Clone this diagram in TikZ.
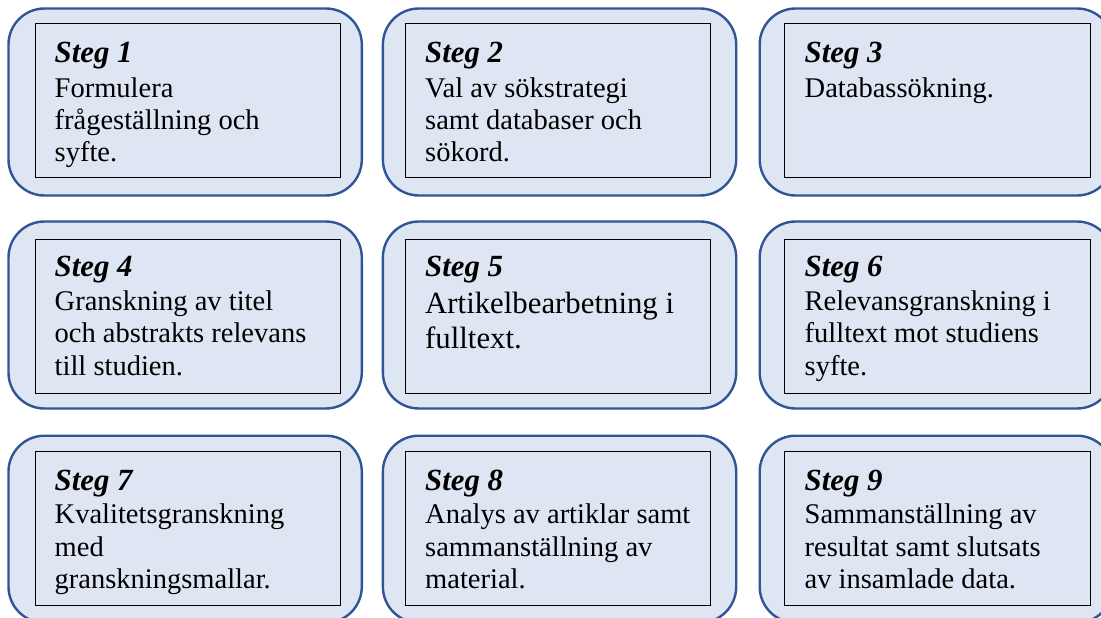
\documentclass[tikz,border=0pt]{standalone}
\usepackage{fontspec}
\setmainfont{Liberation Serif}
\definecolor{boxfill}{HTML}{DFE6F3}
\definecolor{boxline}{HTML}{2F5597}
\begin{document}
\begin{tikzpicture}[x=1pt,y=-1pt,
  outerbox/.style={draw=boxline, line width=2.4pt, fill=boxfill, rounded corners=36pt,
    minimum width=353.3pt, minimum height=187pt, anchor=north west, inner sep=0pt},
  innerbox/.style={draw=black, line width=1.1pt, fill=boxfill,
    minimum width=305.3pt, minimum height=154pt, anchor=north west, inner sep=0pt},
  head/.style={anchor=base west, inner sep=0pt, font=\fontsize{30.8}{35}\selectfont\bfseries\itshape},
  body/.style={anchor=base west, inner sep=0pt, font=\fontsize{28.5}{32.5}\selectfont},
  bigbody/.style={anchor=base west, inner sep=0pt, font=\fontsize{30.8}{35}\selectfont}]
\useasboundingbox (0,0) rectangle (1101,618);
\clip (0,0) rectangle (1101,618);
% row 1
\node[outerbox] (o1) at (7.3,7.3) {};
\node[outerbox] (o2) at (381.7,7.3) {};
\node[outerbox] (o3) at (758.5,7.3) {};
\node[innerbox] (i1) at (35,23.3) {};
\node[innerbox] (i2) at (404.7,23.3) {};
\node[innerbox] (i3) at (784.3,23.3) {};
\node[head] (h1) at (54.5,63) {Steg 1};
\node[head] (h2) at (425,63) {Steg 2};
\node[head] (h3) at (804.5,63) {Steg 3};
\node[body] (b1) at (54.5,97) {\parbox[t]{295pt}{Formulera\\frågeställning och\\syfte.}};
\node[body] (b2) at (425,97) {\parbox[t]{295pt}{Val av sökstrategi\\samt databaser och\\sökord.}};
\node[body] (b3) at (804.5,97) {\parbox[t]{295pt}{Databassökning.}};
% row 2
\node[outerbox] (o4) at (7.3,220.3) {};
\node[outerbox] (o5) at (381.7,220.3) {};
\node[outerbox] (o6) at (758.5,220.3) {};
\node[innerbox] (i4) at (35,238.7) {};
\node[innerbox] (i5) at (404.7,238.7) {};
\node[innerbox] (i6) at (784.3,238.7) {};
\node[head] (h4) at (54.5,276.7) {Steg 4};
\node[head] (h5) at (425,276.7) {Steg 5};
\node[head] (h6) at (804.5,276.7) {Steg 6};
\node[body] (b4) at (54.5,310) {\parbox[t]{295pt}{Granskning av titel\\och abstrakts relevans\\till studien.}};
\node[bigbody] (b5) at (425,313) {\parbox[t]{295pt}{Artikelbearbetning i\\fulltext.}};
\node[body] (b6) at (804.5,310) {\parbox[t]{295pt}{Relevansgranskning i\\fulltext mot studiens\\syfte.}};
% row 3
\node[outerbox] (o7) at (7.3,434.5) {};
\node[outerbox] (o8) at (381.7,434.5) {};
\node[outerbox] (o9) at (758.5,434.5) {};
\node[innerbox] (i7) at (35,451.3) {};
\node[innerbox] (i8) at (404.7,451.3) {};
\node[innerbox] (i9) at (784.3,451.3) {};
\node[head] (h7) at (54.5,490) {Steg 7};
\node[head] (h8) at (425,490) {Steg 8};
\node[head] (h9) at (804.5,490) {Steg 9};
\node[body] (b7) at (54.5,523.5) {\parbox[t]{295pt}{Kvalitetsgranskning\\med\\granskningsmallar.}};
\node[body] (b8) at (425,523.5) {\parbox[t]{295pt}{Analys av artiklar samt\\sammanställning av\\material.}};
\node[body] (b9) at (804.5,523.5) {\parbox[t]{295pt}{Sammanställning av\\resultat samt slutsats\\av insamlade data.}};
\end{tikzpicture}
\end{document}
